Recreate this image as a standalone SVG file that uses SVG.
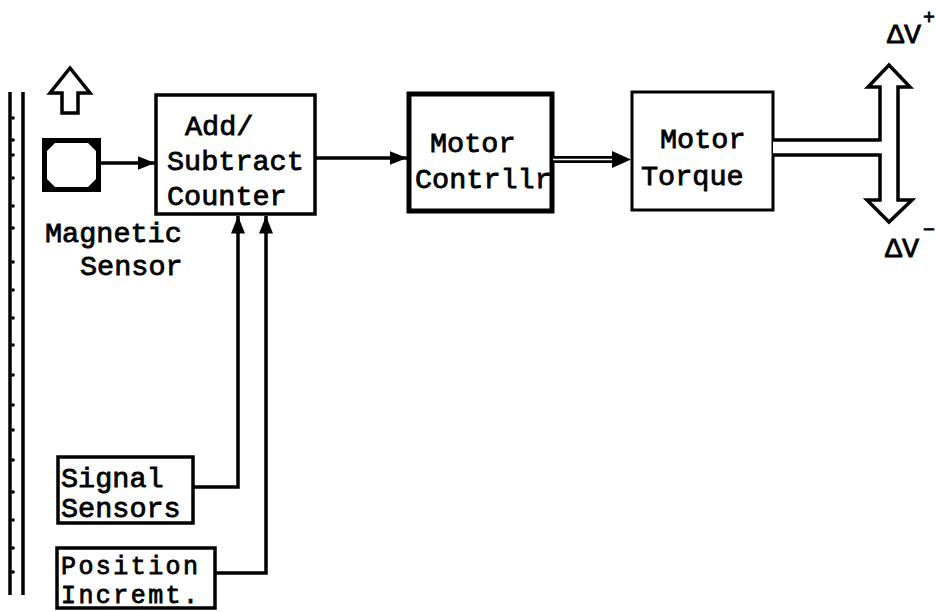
<svg xmlns="http://www.w3.org/2000/svg" width="936" height="612" viewBox="0 0 936 612">
<style>
text{font-family:"Liberation Mono","Courier New",monospace;font-size:28.5px;fill:#000;stroke:#000;stroke-width:0.8}
.sup{font-size:20px}
.box{fill:#fff;stroke:#000;stroke-width:3.5}
.ln{fill:none;stroke:#000;stroke-width:3.5}
.outl{fill:#fff;stroke:#000;stroke-width:3.5;stroke-linejoin:miter}
</style>
<defs>
<marker id="ah" viewBox="0 0 10 10" refX="10" refY="5" markerWidth="5" markerHeight="5" markerUnits="strokeWidth" orient="auto">
<path d="M0,1 L10,5 L0,9 Z" fill="#000"/>
</marker>
</defs>
<rect width="936" height="612" fill="#fff"/>

<g id="rail">
<line x1="10" y1="92" x2="10" y2="595" stroke="#000" stroke-width="3.5"/>
<line x1="23" y1="92" x2="23" y2="595" stroke="#000" stroke-width="3.5"/>
<g fill="#000">
<circle cx="13" cy="118" r="1.8"/><circle cx="13" cy="140" r="1.8"/><circle cx="13" cy="155" r="1.8"/><circle cx="13" cy="178" r="1.8"/><circle cx="13" cy="206" r="1.8"/><circle cx="13" cy="228" r="1.8"/><circle cx="13" cy="262" r="1.8"/><circle cx="13" cy="290" r="1.8"/><circle cx="13" cy="318" r="1.8"/><circle cx="13" cy="345" r="1.8"/><circle cx="13" cy="375" r="1.8"/><circle cx="13" cy="405" r="1.8"/><circle cx="13" cy="430" r="1.8"/><circle cx="13" cy="460" r="1.8"/><circle cx="13" cy="492" r="1.8"/><circle cx="13" cy="520" r="1.8"/><circle cx="13" cy="548" r="1.8"/><circle cx="13" cy="572" r="1.8"/>
</g>
</g>

<g id="motion-arrow">
<path class="outl" d="M70,68 L90,93 L78,93 L78,113 L62,113 L62,93 L50,93 Z"/>
</g>

<g id="magnetic-sensor">
<rect x="42" y="138" width="59" height="54" fill="#000"/>
<path d="M55,143 L88,143 L96,151 L96,179 L88,187 L55,187 L47,179 L47,151 Z" fill="#fff"/>
<text x="45" y="242">Magnetic</text>
<text x="80" y="275">Sensor</text>
</g>

<g id="counter">
<rect class="box" x="156" y="95" width="159" height="119"/>
<text x="185" y="135">Add/</text>
<text x="167" y="170">Subtract</text>
<text x="167" y="205">Counter</text>
</g>

<g id="controller">
<rect class="box" x="409" y="94" width="143" height="117" style="stroke-width:5"/>
<text x="430" y="152">Motor</text>
<text x="415" y="188">Contrllr</text>
</g>

<g id="torque">
<rect class="box" x="632" y="92" width="141" height="118" style="stroke-width:3"/>
<text x="660" y="148">Motor</text>
<text x="641" y="185">Torque</text>
</g>

<g id="signal-sensors">
<rect class="box" x="58" y="457" width="135" height="66"/>
<text x="61" y="487">Signal</text>
<text x="61" y="517">Sensors</text>
</g>

<g id="position-increment">
<rect class="box" x="57" y="548" width="158" height="60"/>
<text x="61" y="574" style="font-size:25px" textLength="137" lengthAdjust="spacing">Position</text>
<text x="61" y="603" style="font-size:25px" textLength="137" lengthAdjust="spacing">Incremt.</text>
</g>

<g id="delta-v">
<path class="outl" d="M773,140 L880,140 L880,87 L868,87 L889,65 L910,87 L898,87 L898,200 L912,200 L889,222 L867,200 L880,200 L880,155 L773,155"/>
<text x="887" y="43">ΔV</text>
<text class="sup" x="923" y="24">+</text>
<text x="885" y="257">ΔV</text>
<text class="sup" x="923" y="236">−</text>
</g>

<g id="connectors">
<line class="ln" x1="101" y1="163" x2="155" y2="163" marker-end="url(#ah)"/>
<line class="ln" x1="315" y1="158" x2="407" y2="158" marker-end="url(#ah)"/>
<line x1="553" y1="159.5" x2="612" y2="159.5" stroke="#000" stroke-width="7"/>
<line x1="553" y1="159.5" x2="614" y2="159.5" stroke="#fff" stroke-width="1.5"/>
<path d="M612,151 L631,159.5 L612,168 Z" fill="#000"/>
<path class="ln" d="M193,487 L238,487 L238,216" marker-end="url(#ah)"/>
<path class="ln" d="M215,573 L266,573 L266,216" marker-end="url(#ah)"/>
</g>
</svg>
